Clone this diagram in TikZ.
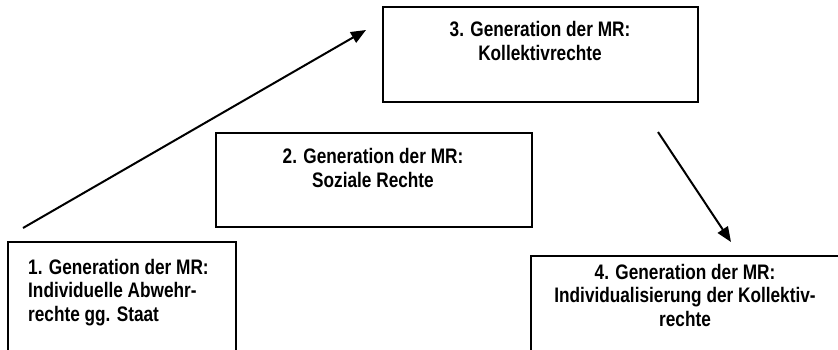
\documentclass[tikz,border=0pt]{standalone}
\usepackage{fontspec}
\setmainfont{Liberation Sans}[FakeStretch=0.82]
\usetikzlibrary{arrows.meta}
\begin{document}
\begin{tikzpicture}[x=1pt,y=-1pt,
  box/.style={draw, line width=2pt, rectangle, inner sep=0pt, outer sep=0pt, anchor=north west},
  lbl/.style={font=\fontsize{21}{23.5}\selectfont\bfseries, inner sep=0pt, align=center},
  arr/.style={line width=2pt, -{Triangle[length=15pt,width=12pt]}}]
\useasboundingbox (0,0) rectangle (838,350);
\clip (0,0) rectangle (838,350);
% boxes
\node[box, minimum width=228pt, minimum height=118pt] (b1) at (8,242) {};
\node[box, minimum width=316pt, minimum height=94pt] (b2) at (216,133) {};
\node[box, minimum width=315pt, minimum height=95pt] (b3) at (383,7) {};
\node[box, minimum width=320pt, minimum height=104pt] (b4) at (531,256) {};
% labels
\node[lbl, align=left, anchor=west] (t1) at (28,292.5) {1. Generation der MR:\\Individuelle Abwehr-\\rechte gg. Staat};
\node[lbl] (t2) at (373,168) {2. Generation der MR:\\Soziale Rechte};
\node[lbl] (t3) at (540,41) {3. Generation der MR:\\Kollektivrechte};
\node[lbl] (t4) at (685,295) {4. Generation der MR:\\Individualisierung der Kollektiv-\\rechte};
% arrows
\coordinate (a1s) at (23,228);
\coordinate (a1e) at (366,30);
\coordinate (a2s) at (658,132);
\coordinate (a2e) at (731,242);
\draw[arr] (a1s) -- (a1e);
\draw[arr] (a2s) -- (a2e);
\end{tikzpicture}
\end{document}
